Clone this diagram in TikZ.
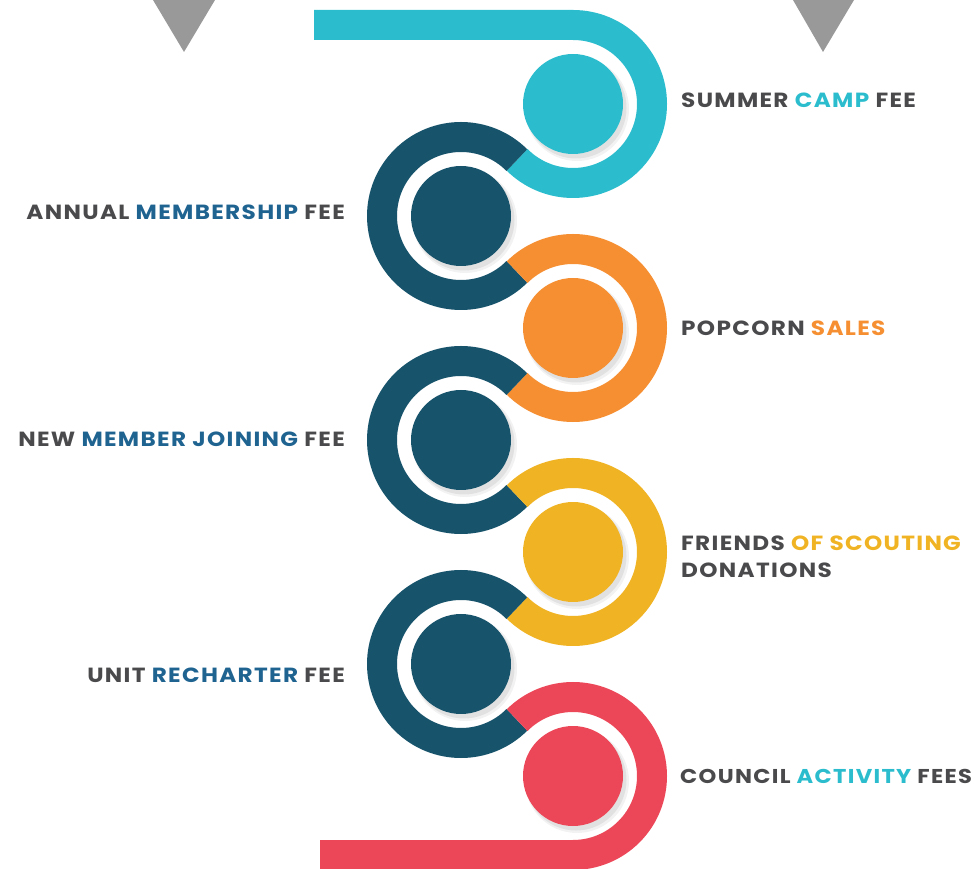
\documentclass[tikz,border=0pt]{standalone}
\usepackage{fontspec}
\usetikzlibrary{calc}
\setmainfont{Poppins}[FakeStretch=1.13, LetterSpace=6.5]
\definecolor{cCyan}{HTML}{2BBDCD}
\definecolor{cDark}{HTML}{17536B}
\definecolor{cBlue}{HTML}{1F6391}
\definecolor{cOrange}{HTML}{F58F32}
\definecolor{cYellow}{HTML}{F0B323}
\definecolor{cRed}{HTML}{EC4758}
\definecolor{cText}{HTML}{4A4A4C}
\definecolor{cTri}{HTML}{999999}
\tikzset{
  band/.style={line width=30pt, line cap=butt},
  disc/.style={circle, minimum size=100pt, inner sep=0pt, fill=#1},
  lbl/.style={inner sep=0pt, text=cText, font=\fontsize{20.5}{25}\selectfont\bfseries},
}
\begin{document}
\begin{tikzpicture}[x=1pt,y=1pt]
\useasboundingbox (0,0) rectangle (980,868);
% centres
\coordinate (c1) at (573,764);
\coordinate (c2) at (461,652);
\coordinate (c3) at (573,540);
\coordinate (c4) at (461,428);
\coordinate (c5) at (573,316);
\coordinate (c6) at (461,204);
\coordinate (c7) at (573,92);
\coordinate (topend) at (314,843);
\coordinate (botend) at (320,13);
% triangles
\fill[cTri] (153,868) -- (215,868) -- (184,816) -- cycle;
\fill[cTri] (793,868) -- (854,868) -- (823,816) -- cycle;
% bands
\draw[band, cCyan] (topend) -- ($(c1)+(0,79)$) arc[start angle=90, end angle=-135, radius=79];
\draw[band, cDark] ($(c2)+(45:79)$) arc[start angle=45, end angle=315, radius=79];
\draw[band, cOrange] ($(c3)+(135:79)$) arc[start angle=135, end angle=-135, radius=79];
\draw[band, cDark] ($(c4)+(45:79)$) arc[start angle=45, end angle=315, radius=79];
\draw[band, cYellow] ($(c5)+(135:79)$) arc[start angle=135, end angle=-135, radius=79];
\draw[band, cDark] ($(c6)+(45:79)$) arc[start angle=45, end angle=315, radius=79];
\draw[band, cRed] ($(c7)+(135:79)$) arc[start angle=135, end angle=-90, radius=79] -- (botend);
% shadows and discs
\foreach \c in {c1,c2,c3,c4,c5,c6,c7}{
  \fill[black, opacity=0.05] ($(\c)+(4,-5)$) circle (52);
  \fill[black, opacity=0.07] ($(\c)+(3,-4)$) circle (50.5);
}
\node[disc=cCyan] (d1) at (c1) {};
\node[disc=cDark] (d2) at (c2) {};
\node[disc=cOrange] (d3) at (c3) {};
\node[disc=cDark] (d4) at (c4) {};
\node[disc=cYellow] (d5) at (c5) {};
\node[disc=cDark] (d6) at (c6) {};
\node[disc=cRed] (d7) at (c7) {};
% labels
\node[lbl, anchor=base west] (l1) at (681,760) {SUMMER \textcolor{cCyan}{CAMP} FEE};
\node[lbl, anchor=base east] (l2) at (345,648) {ANNUAL \textcolor{cBlue}{MEMBERSHIP} FEE};
\node[lbl, anchor=base west] (l3) at (681,532) {POPCORN \textcolor{cOrange}{SALES}};
\node[lbl, anchor=base east] (l4) at (345,421) {NEW \textcolor{cBlue}{MEMBER JOINING} FEE};
\node[lbl, anchor=base west] (l5a) at (681,317) {FRIENDS \textcolor{cYellow}{OF SCOUTING}};
\node[lbl, anchor=base west] (l5b) at (681,290) {DONATIONS};
\node[lbl, anchor=base east] (l6) at (345,185) {UNIT \textcolor{cBlue}{RECHARTER} FEE};
\node[lbl, anchor=base west, font=\fontsize{20}{25}\selectfont\bfseries] (l7) at (680,85) {COUNCIL \textcolor{cCyan}{ACTIVITY} FEES};
\end{tikzpicture}
\end{document}
